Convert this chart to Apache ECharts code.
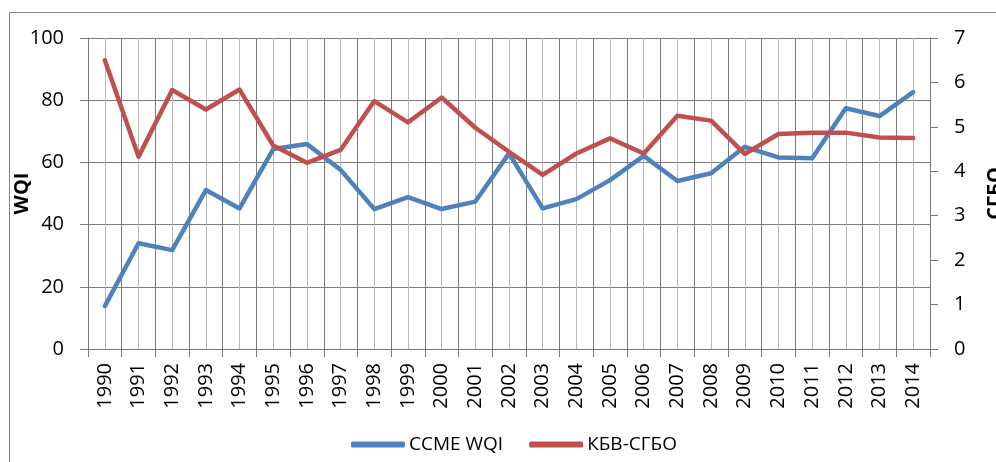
<!DOCTYPE html>
<html>
<head>
<meta charset="utf-8">
<script src="https://cdn.jsdelivr.net/npm/echarts@6/dist/echarts.min.js"></script>
<style>
  html, body { margin: 0; padding: 0; background: #fff; }
  #chart { width: 996px; height: 462px; }
</style>
</head>
<body>
<div id="chart"></div>
<script>
// years on the x axis
const years = ['1990', '1991', '1992', '1993', '1994', '1995', '1996', '1997', '1998', '1999',
  '2000', '2001', '2002', '2003', '2004', '2005', '2006', '2007', '2008', '2009',
  '2010', '2011', '2012', '2013', '2014'];
// CCME WQI (left axis)
const wqi = [13.8, 34.0, 31.8, 51.1, 45.2, 64.3, 65.9, 57.6, 45.0, 48.8,
  45.0, 47.4, 62.9, 45.2, 48.2, 54.3, 62.1, 54.0, 56.5, 65.0,
  61.6, 61.3, 77.4, 74.9, 82.6];
// КБВ-СГБО (right axis)
const sgbo = [6.50, 4.33, 5.83, 5.39, 5.84, 4.58, 4.19, 4.48, 5.58, 5.10,
  5.66, 4.98, 4.44, 3.92, 4.40, 4.74, 4.40, 5.25, 5.14, 4.39,
  4.84, 4.87, 4.87, 4.76, 4.75];
const wqiTicks = { min: 0, max: 100, step: 20 };
const sgboTicks = { min: 0, max: 7, step: 1 };

const font = '"Open Sans", "Liberation Sans", sans-serif';
const dark = '#7a7a7a';
const light = '#b8b8b8';

const chart = echarts.init(document.getElementById('chart'));
chart.setOption({
  animation: false,
  color: ['#4f81bd', '#c0504d'],
  textStyle: { fontFamily: font, color: '#000' },
  grid: { left: 88, top: 38, right: 66, bottom: 113, containLabel: false, outerBoundsMode: 'none' },
  graphic: [{
    type: 'rect',
    left: 7, top: 10,
    shape: { width: 1100, height: 600 },
    style: { fill: 'none', stroke: '#868686', lineWidth: 1 },
    silent: true
  }],
  legend: {
    left: 346, top: 430,
    icon: 'roundRect',
    itemWidth: 54, itemHeight: 6, itemGap: 26,
    textStyle: { fontSize: 19, fontFamily: font, color: '#000', padding: [0, 0, 0, -1] }
  },
  xAxis: [{
    type: 'category',
    data: years,
    boundaryGap: true,
    axisLine: { lineStyle: { color: dark, width: 1 } },
    axisTick: { show: true, length: 8, lineStyle: { color: dark } },
    axisLabel: { rotate: 90, fontSize: 20, margin: 14, color: '#000', interval: 0 },
    splitLine: { show: false }
  }, {
    // helper axis that only draws the vertical grid lines
    type: 'value',
    min: 0, max: years.length, interval: 1,
    position: 'top',
    axisLine: { show: false },
    axisTick: { show: false },
    axisLabel: { show: false },
    splitLine: { show: true, lineStyle: { color: dark, width: 1 } },
    minorTick: { show: false, splitNumber: 2 },
    minorSplitLine: { show: true, lineStyle: { color: light, width: 1 } }
  }],
  yAxis: [{
    type: 'value',
    min: wqiTicks.min, max: wqiTicks.max, interval: wqiTicks.step,
    name: 'WQI',
    nameLocation: 'middle',
    nameGap: 56,
    nameMoveOverlap: false,
    nameTextStyle: { fontSize: 20, fontWeight: 'bold', color: '#000' },
    axisLine: { show: true, lineStyle: { color: dark } },
    axisTick: { show: true, length: 8, lineStyle: { color: dark } },
    axisLabel: { fontSize: 20, margin: 24, color: '#000' },
    splitLine: { show: true, lineStyle: { color: dark, width: 1 } }
  }, {
    type: 'value',
    position: 'right',
    min: sgboTicks.min, max: sgboTicks.max, interval: sgboTicks.step,
    name: 'СГБО',
    nameLocation: 'middle',
    nameGap: 55,
    nameRotate: 90,
    nameMoveOverlap: false,
    nameTextStyle: { fontSize: 20, fontWeight: 'bold', color: '#000' },
    axisLine: { show: true, lineStyle: { color: dark } },
    axisTick: { show: true, length: 8, lineStyle: { color: dark } },
    axisLabel: { fontSize: 20, margin: 24, color: '#000' },
    splitLine: { show: false }
  }],
  series: [{
    name: 'CCME WQI',
    type: 'line',
    xAxisIndex: 0,
    yAxisIndex: 0,
    data: wqi,
    symbol: 'none',
    lineStyle: { width: 4.5, cap: 'round', join: 'round' }
  }, {
    name: 'КБВ-СГБО',
    type: 'line',
    xAxisIndex: 0,
    yAxisIndex: 1,
    data: sgbo,
    symbol: 'none',
    lineStyle: { width: 4.5, cap: 'round', join: 'round' }
  }]
});
</script>
</body>
</html>
